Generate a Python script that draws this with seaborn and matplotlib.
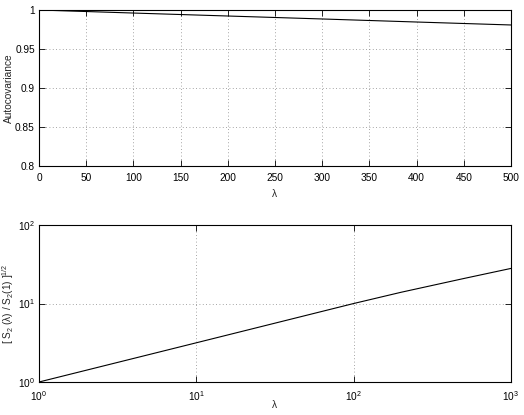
import numpy as np
import pandas as pd
import matplotlib
matplotlib.use("Agg")
import matplotlib.pyplot as plt
import seaborn as sns

# ── data ───────────────────────────────────────────────────────────────────
lag_top = [0, 100, 200, 300, 400, 500]
autocov = [1.0, 0.9961, 0.9923, 0.9885, 0.9846, 0.9808]

lag_bottom = [1, 10, 100, 200, 500, 1000]
s2_ratio = [1.0, 3.16, 10.0, 13.9, 20.8, 28.0]

xticks_top = [0, 50, 100, 150, 200, 250, 300, 350, 400, 450, 500]
yticks_top = [0.8, 0.85, 0.9, 0.95, 1]
yticklabels_top = ["0.8", "0.85", "0.9", "0.95", "1"]

# ── style: MATLAB-ish look ─────────────────────────────────────────────────
sns.set_style("ticks")
plt.rcParams["font.family"] = ["Liberation Sans", "DejaVu Sans"]
plt.rcParams["mathtext.default"] = "regular"
plt.rcParams["font.size"] = 7.3

fig = plt.figure(figsize=(5.24, 4.15), dpi=100)
ax1 = fig.add_axes([0.0744, 0.6, 0.9008, 0.3759])
ax2 = fig.add_axes([0.0744, 0.0795, 0.9008, 0.3783])


def matlab_axes(ax):
    for s in ax.spines.values():
        s.set_visible(True)
        s.set_linewidth(0.8)
        s.set_color("black")
    ax.tick_params(which="both", direction="in", top=True, right=True,
                   length=4, width=0.6, labelsize=7.3, colors="black")
    ax.tick_params(axis="x", pad=5)
    ax.tick_params(axis="y", pad=3)
    ax.tick_params(which="minor", length=0)
    ax.grid(True, which="major", linestyle=(0, (1, 3)), color="#888888",
            linewidth=0.6)
    ax.set_axisbelow(True)


# ── top panel: autocovariance ──────────────────────────────────────────────
top = pd.DataFrame({"lag": lag_top, "autocov": autocov})
sns.lineplot(data=top, x="lag", y="autocov", ax=ax1, color="black",
             linewidth=0.8)
ax1.set_xlim(0, 500)
ax1.set_ylim(0.8, 1.0)
ax1.set_xticks(xticks_top)
ax1.set_yticks(yticks_top)
ax1.set_yticklabels(yticklabels_top)
ax1.set_xlabel("λ", fontsize=7.3)
ax1.set_ylabel("Autocovariance", fontsize=7.3)
matlab_axes(ax1)
ax1.xaxis.set_label_coords(0.5, -0.145)
ax1.yaxis.set_label_coords(-0.054, 0.5)

# ── bottom panel: structure function ratio (log-log) ──────────────────────
bot = pd.DataFrame({"lag": lag_bottom, "ratio": s2_ratio})
sns.lineplot(data=bot, x="lag", y="ratio", ax=ax2, color="black",
             linewidth=0.8)
ax2.set_xscale("log")
ax2.set_yscale("log")
ax2.set_xlim(1, 1000)
ax2.set_ylim(1, 100)
ax2.set_xticks([1, 10, 100, 1000])
ax2.set_yticks([1, 10, 100])
ax2.set_xlabel("λ", fontsize=7.3)
ax2.set_ylabel(r"[ S$_2$ (λ) / S$_2$(1) ]$^{1/2}$", fontsize=7.3)
matlab_axes(ax2)
ax2.xaxis.set_label_coords(0.5, -0.115)
ax2.yaxis.set_label_coords(-0.049, 0.5)

fig.savefig("out.png", dpi=100, facecolor="white")
